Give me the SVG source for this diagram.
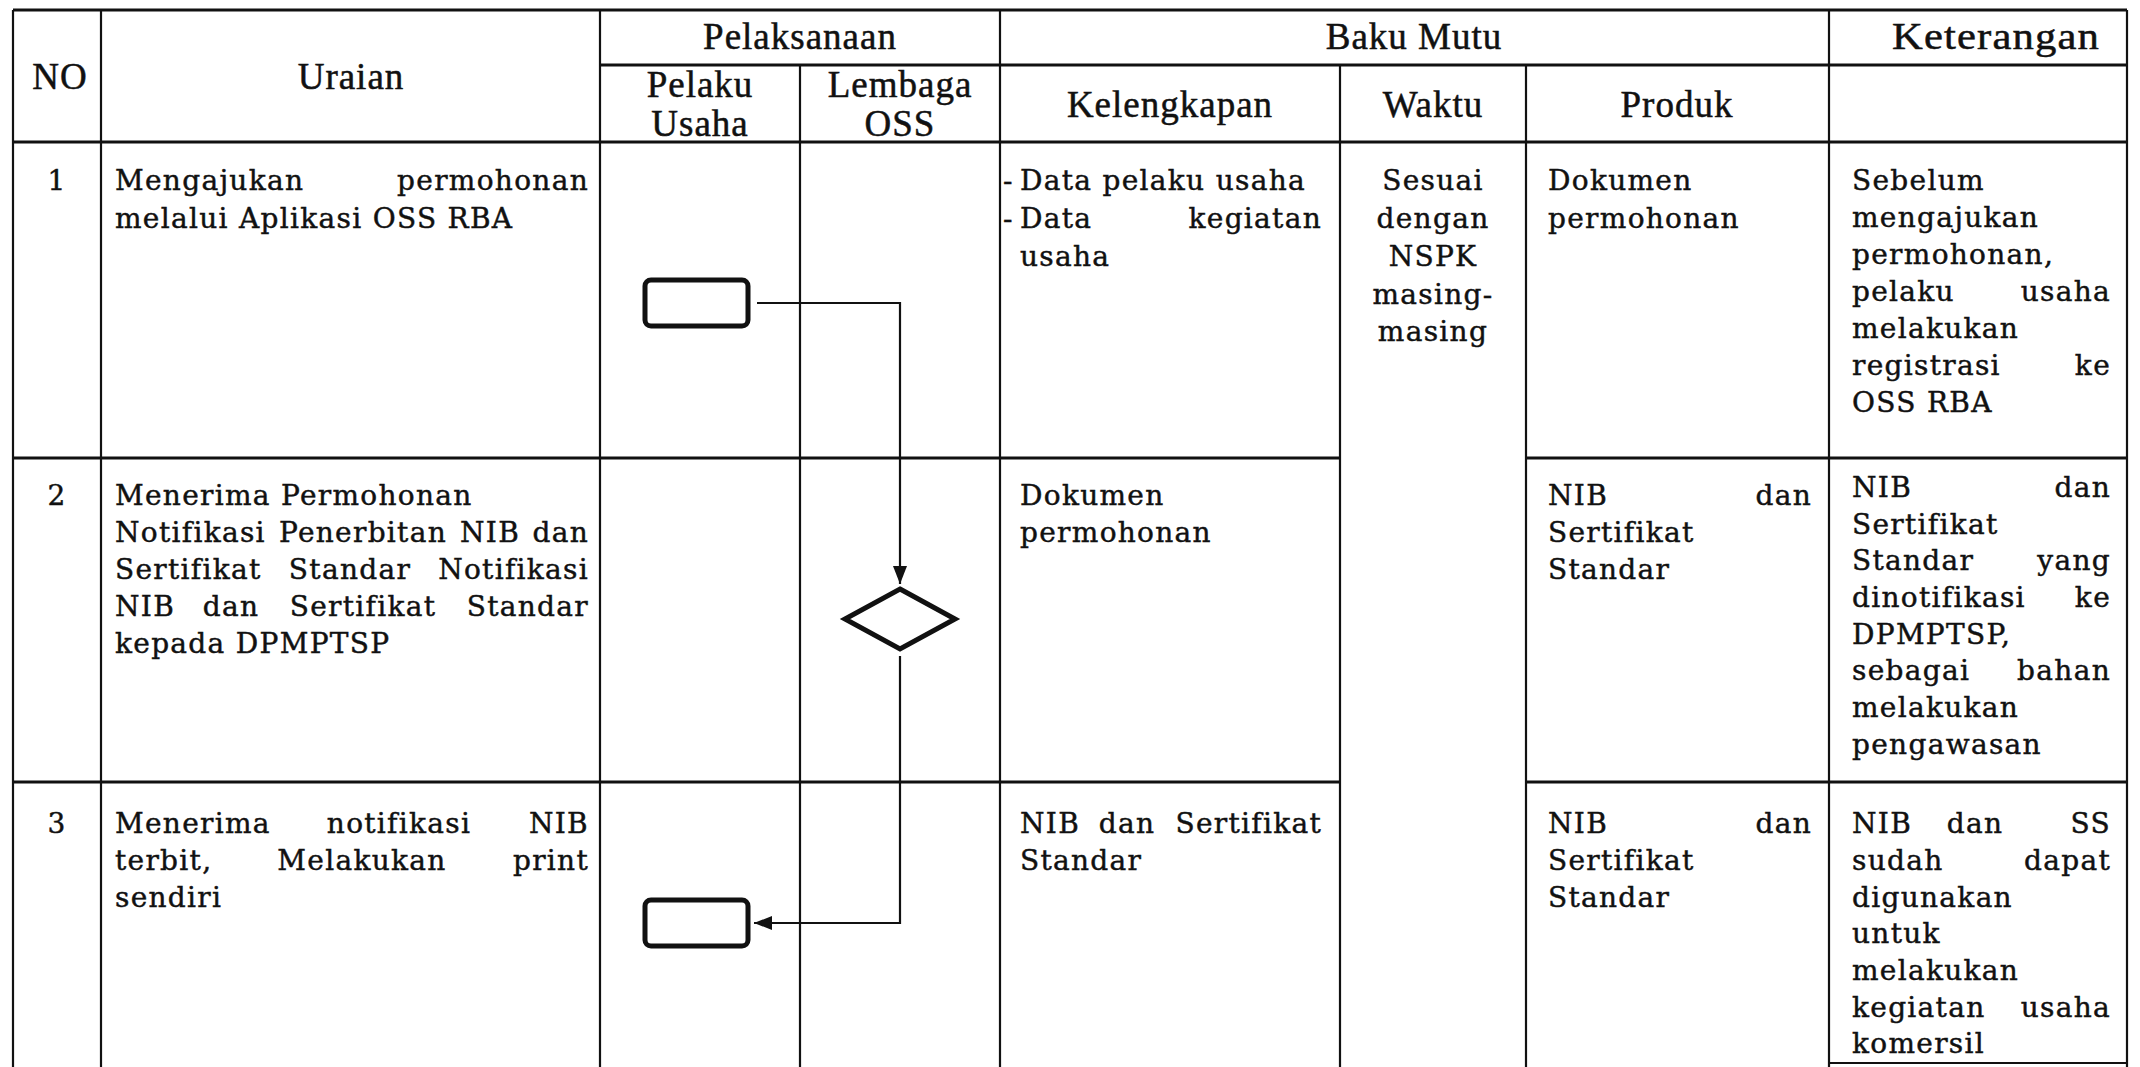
<svg xmlns="http://www.w3.org/2000/svg" width="2140" height="1067" viewBox="0 0 2140 1067">
<style>
.grid line{stroke:#111;stroke-width:2.2}
.grid .h{stroke-width:3}
.hd{font-family:"Liberation Serif",serif;font-size:37px;letter-spacing:1px;fill:#111;stroke:#111;stroke-width:0.5;text-anchor:middle}
.t{font-family:"DejaVu Serif","Liberation Serif",serif;font-size:28px;letter-spacing:1.3px;fill:#111;stroke:#111;stroke-width:0.45}
.e{text-anchor:end}
.m{text-anchor:middle}
.shape{fill:none;stroke:#111;stroke-width:5}
.conn{fill:none;stroke:#111;stroke-width:2.2}
</style>
<defs>
<marker id="arr" viewBox="0 0 18 14" refX="18" refY="7" markerWidth="18" markerHeight="14" markerUnits="userSpaceOnUse" orient="auto">
<path d="M0,0 L18,7 L0,14 Z" fill="#111"/>
</marker>
</defs>
<rect width="2140" height="1067" fill="#fff"/>
<g class="grid">
<line class="h" x1="13" y1="10" x2="2127" y2="10"/>
<line class="h" x1="600" y1="65" x2="2127" y2="65"/>
<line class="h" x1="13" y1="142" x2="2127" y2="142"/>
<line class="h" x1="13" y1="458" x2="1340" y2="458"/>
<line class="h" x1="1526" y1="458" x2="2127" y2="458"/>
<line class="h" x1="13" y1="782" x2="1340" y2="782"/>
<line class="h" x1="1526" y1="782" x2="2127" y2="782"/>
<line x1="1829" y1="1063" x2="2127" y2="1063"/>
<line x1="13" y1="10" x2="13" y2="1067"/>
<line x1="101" y1="10" x2="101" y2="1067"/>
<line x1="600" y1="10" x2="600" y2="1067"/>
<line x1="800" y1="65" x2="800" y2="1067"/>
<line x1="1000" y1="10" x2="1000" y2="1067"/>
<line x1="1340" y1="65" x2="1340" y2="1067"/>
<line x1="1526" y1="65" x2="1526" y2="1067"/>
<line x1="1829" y1="10" x2="1829" y2="1067"/>
<line x1="2127" y1="10" x2="2127" y2="1067"/>
</g>
<g id="header">
<text class="hd" x="60" y="89">NO</text>
<text class="hd" x="351" y="89">Uraian</text>
<text class="hd" x="800" y="49">Pelaksanaan</text>
<text class="hd" x="700" y="97">Pelaku</text>
<text class="hd" x="700" y="136">Usaha</text>
<text class="hd" x="900" y="97">Lembaga</text>
<text class="hd" x="900" y="136">OSS</text>
<text class="hd" x="1414" y="49">Baku Mutu</text>
<text class="hd" x="1170" y="117">Kelengkapan</text>
<text class="hd" x="1433" y="117">Waktu</text>
<text class="hd" x="1677" y="117">Produk</text>
<text class="hd" x="1996" y="49" textLength="208" lengthAdjust="spacingAndGlyphs">Keterangan</text>
</g>
<g id="row1">
<text class="t m" x="57" y="190">1</text>
<text class="t" x="115" y="190">Mengajukan</text>
<text class="t e" x="589" y="190">permohonan</text>
<text class="t" x="115" y="228">melalui Aplikasi OSS RBA</text>
<text class="t" x="1003" y="190">-</text>
<text class="t" x="1020" y="190">Data pelaku usaha</text>
<text class="t" x="1003" y="228">-</text>
<text class="t" x="1020" y="228">Data</text>
<text class="t e" x="1322" y="228">kegiatan</text>
<text class="t" x="1020" y="266">usaha</text>
<text class="t m" x="1433" y="190">Sesuai</text>
<text class="t m" x="1433" y="228">dengan</text>
<text class="t m" x="1433" y="266">NSPK</text>
<text class="t m" x="1433" y="304">masing-</text>
<text class="t m" x="1433" y="341">masing</text>
<text class="t" x="1548" y="190">Dokumen</text>
<text class="t" x="1548" y="228">permohonan</text>
<text class="t" x="1852" y="190">Sebelum</text>
<text class="t" x="1852" y="227">mengajukan</text>
<text class="t" x="1852" y="264">permohonan,</text>
<text class="t" x="1852" y="301">pelaku</text>
<text class="t e" x="2111" y="301">usaha</text>
<text class="t" x="1852" y="338">melakukan</text>
<text class="t" x="1852" y="375">registrasi</text>
<text class="t e" x="2111" y="375">ke</text>
<text class="t" x="1852" y="412">OSS RBA</text>
</g>
<g id="row2">
<text class="t m" x="57" y="505">2</text>
<text class="t" x="115" y="505">Menerima Permohonan</text>
<text class="t" x="115" y="542">Notifikasi</text>
<text class="t m" x="363" y="542">Penerbitan</text>
<text class="t m" x="490" y="542">NIB</text>
<text class="t e" x="589" y="542">dan</text>
<text class="t" x="115" y="579">Sertifikat</text>
<text class="t m" x="350" y="579">Standar</text>
<text class="t e" x="589" y="579">Notifikasi</text>
<text class="t" x="115" y="616">NIB</text>
<text class="t m" x="231" y="616">dan</text>
<text class="t m" x="363" y="616">Sertifikat</text>
<text class="t e" x="589" y="616">Standar</text>
<text class="t" x="115" y="653">kepada DPMPTSP</text>
<text class="t" x="1020" y="505">Dokumen</text>
<text class="t" x="1020" y="542">permohonan</text>
<text class="t" x="1548" y="505">NIB</text>
<text class="t e" x="1812" y="505">dan</text>
<text class="t" x="1548" y="542">Sertifikat</text>
<text class="t" x="1548" y="579">Standar</text>
<text class="t" x="1852" y="497">NIB</text>
<text class="t e" x="2111" y="497">dan</text>
<text class="t" x="1852" y="534">Sertifikat</text>
<text class="t" x="1852" y="570">Standar</text>
<text class="t e" x="2111" y="570">yang</text>
<text class="t" x="1852" y="607">dinotifikasi</text>
<text class="t e" x="2111" y="607">ke</text>
<text class="t" x="1852" y="644">DPMPTSP,</text>
<text class="t" x="1852" y="680">sebagai</text>
<text class="t e" x="2111" y="680">bahan</text>
<text class="t" x="1852" y="717">melakukan</text>
<text class="t" x="1852" y="754">pengawasan</text>
</g>
<g id="row3">
<text class="t m" x="57" y="833">3</text>
<text class="t" x="115" y="833">Menerima</text>
<text class="t m" x="399" y="833">notifikasi</text>
<text class="t e" x="589" y="833">NIB</text>
<text class="t" x="115" y="870">terbit,</text>
<text class="t m" x="362" y="870">Melakukan</text>
<text class="t e" x="589" y="870">print</text>
<text class="t" x="115" y="907">sendiri</text>
<text class="t" x="1020" y="833">NIB</text>
<text class="t m" x="1127" y="833">dan</text>
<text class="t e" x="1322" y="833">Sertifikat</text>
<text class="t" x="1020" y="870">Standar</text>
<text class="t" x="1548" y="833">NIB</text>
<text class="t e" x="1812" y="833">dan</text>
<text class="t" x="1548" y="870">Sertifikat</text>
<text class="t" x="1548" y="907">Standar</text>
<text class="t" x="1852" y="833">NIB</text>
<text class="t m" x="1975" y="833">dan</text>
<text class="t e" x="2111" y="833">SS</text>
<text class="t" x="1852" y="870">sudah</text>
<text class="t e" x="2111" y="870">dapat</text>
<text class="t" x="1852" y="907">digunakan</text>
<text class="t" x="1852" y="943">untuk</text>
<text class="t" x="1852" y="980">melakukan</text>
<text class="t" x="1852" y="1017">kegiatan</text>
<text class="t e" x="2111" y="1017">usaha</text>
<text class="t" x="1852" y="1053">komersil</text>
</g>
<g id="node-start">
<rect class="shape" x="645" y="280" width="103" height="46" rx="6"/>
</g>
<g id="node-decision">
<polygon class="shape" points="900,589 955,619 900,649 845,619"/>
</g>
<g id="node-end">
<rect class="shape" x="645" y="900" width="103" height="46" rx="6"/>
</g>
<g id="connectors">
<path class="conn" d="M757,303 H900 V584" marker-end="url(#arr)"/>
<path class="conn" d="M900,656 V923 H754" marker-end="url(#arr)"/>
</g>
</svg>
